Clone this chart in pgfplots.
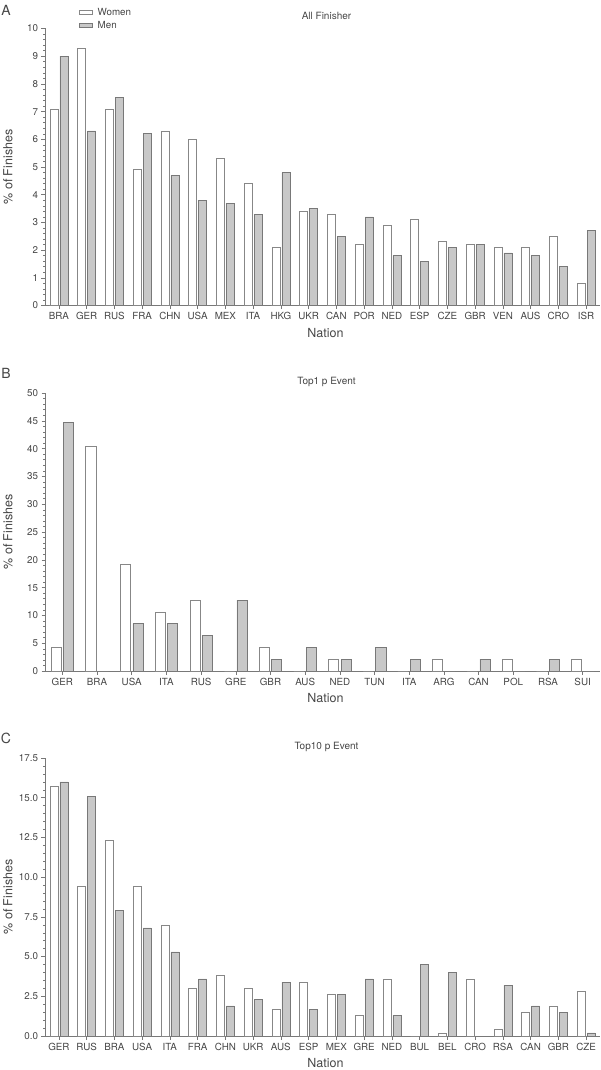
\documentclass[border=0pt]{standalone}
\usepackage{fontspec}
\setmainfont{TeX Gyre Heros}
\usepackage{pgfplots}
\usepackage{pgfplotstable}
\pgfplotsset{compat=1.18}
\definecolor{mengray}{RGB}{200,200,200}
\definecolor{menedge}{RGB}{120,120,120}
\definecolor{womedge}{RGB}{135,135,135}
\definecolor{axgray}{RGB}{120,120,120}
\definecolor{txtgray}{RGB}{70,70,70}

\pgfplotstableread{
x W M
0 7.1 9.0
1 9.3 6.3
2 7.1 7.5
3 4.9 6.2
4 6.3 4.7
5 6.0 3.8
6 5.3 3.7
7 4.4 3.3
8 2.1 4.8
9 3.4 3.5
10 3.3 2.5
11 2.2 3.2
12 2.9 1.8
13 3.1 1.6
14 2.3 2.1
15 2.2 2.2
16 2.1 1.9
17 2.1 1.8
18 2.5 1.4
19 0.8 2.7
}\tableA

\pgfplotstableread{
x W M
0 4.26 44.68
1 40.43 0
2 19.15 8.51
3 10.64 8.51
4 12.77 6.38
5 0 12.77
6 4.26 2.13
7 0 4.26
8 2.13 2.13
9 0 4.26
10 0 2.13
11 2.13 0
12 0 2.13
13 2.13 0
14 0 2.13
15 2.13 0
}\tableB

\pgfplotstableread{
x W M
0 15.7 16.0
1 9.4 15.1
2 12.3 7.9
3 9.4 6.8
4 7.0 5.3
5 3.0 3.6
6 3.8 1.9
7 3.0 2.3
8 1.7 3.4
9 3.4 1.7
10 2.6 2.6
11 1.3 3.6
12 3.6 1.3
13 0 4.5
14 0.2 4.0
15 3.6 0
16 0.4 3.2
17 1.5 1.9
18 1.9 1.5
19 2.8 0.2
}\tableC

\pgfplotsset{
  panel/.style={
    scale only axis, width=555pt,
    axis x line*=bottom, axis y line*=left,
    axis line style={axgray, -, line width=0.6pt},
    tick style={axgray, line width=0.5pt},
    tick align=outside, major tick length=3.5pt, minor tick length=2pt,
    minor y tick num=4, minor x tick num=0,
    ymin=0, xmin=-0.5,
    xlabel=Nation, ylabel={\% of Finishes},
    xlabel style={font=\fontsize{12.5}{14}\selectfont, at={(axis description cs:0.5,0)}, anchor=center, yshift=-27.5pt, xshift=3pt},
    ylabel style={font=\fontsize{12.5}{14}\selectfont, at={(axis description cs:-0.0667,0.5)}, anchor=center},
    ticklabel style={font=\fontsize{9.8}{11}\selectfont},
    /pgf/number format/assume math mode=true,
    title style={font=\fontsize{10}{12}\selectfont, at={(axis description cs:0.5,1)}, anchor=base, xshift=4pt, yshift=2.5pt},
    ybar, bar width=0.29,
  },
  women/.style={fill=white, draw=womedge, line width=0.6pt, bar shift=-0.18},
  men/.style={fill=mengray, draw=menedge, line width=0.6pt, bar shift=0.18},
}

\begin{document}
\begin{tikzpicture}[color=txtgray]
\path[use as bounding box] (0pt,0pt) rectangle (600pt,-1070pt);

\node[font=\fontsize{14}{16}\selectfont] at (6pt,-10pt) {A};
\node[font=\fontsize{14}{16}\selectfont] at (6pt,-373pt) {B};
\node[font=\fontsize{14}{16}\selectfont] at (6pt,-738pt) {C};

% Panel A
\begin{axis}[panel, at={(45pt,-305.5pt)}, anchor=south west, height=277pt,
  xmax=19.5, ymax=10, ytick={0,1,...,10},
  xtick={0,1,...,19},
  xticklabels={BRA,GER,RUS,FRA,CHN,USA,MEX,ITA,HKG,UKR,CAN,POR,NED,ESP,CZE,GBR,VEN,AUS,CRO,ISR},
  title={All Finisher},
  legend style={at={(axis description cs:0.061,1)}, anchor=south west, yshift=-3pt,
    draw=none, fill=none, inner sep=0pt, row sep=1.5pt,
    font=\fontsize{9.8}{11}\selectfont, nodes={inner sep=1.5pt},
    /tikz/every odd column/.append style={column sep=3.5pt}},
  legend cell align=left,
]
\addlegendimage{legend image code/.code={\draw[fill=white,draw=womedge,line width=0.6pt] (0pt,-2.3pt) rectangle (13pt,2.3pt);}}
\addlegendentry{Women}
\addlegendimage{legend image code/.code={\draw[fill=mengray,draw=menedge,line width=0.6pt] (0pt,-2.3pt) rectangle (13pt,2.3pt);}}
\addlegendentry{Men}
\addplot[women, forget plot] table[x=x, y=W] {\tableA};
\addplot[men, forget plot] table[x=x, y=M] {\tableA};
\end{axis}

% Panel B
\begin{axis}[panel, at={(45pt,-671pt)}, anchor=south west, height=278pt,
  xmax=15.5, ymax=50, ytick={0,5,...,50},
  xtick={0,1,...,15},
  xticklabels={GER,BRA,USA,ITA,RUS,GRE,GBR,AUS,NED,TUN,ITA,ARG,CAN,POL,RSA,SUI},
  title={Top1 p Event},
]
\addplot[women] table[x=x, y=W] {\tableB};
\addplot[men] table[x=x, y=M] {\tableB};
\end{axis}

% Panel C
\begin{axis}[panel, at={(45pt,-1036pt)}, anchor=south west, height=278pt,
  xmax=19.5, ymax=17.5, ytick={0,2.5,...,17.5},
  yticklabel style={/pgf/number format/.cd, fixed, fixed zerofill, precision=1},
  xtick={0,1,...,19},
  xticklabels={GER,RUS,BRA,USA,ITA,FRA,CHN,UKR,AUS,ESP,MEX,GRE,NED,BUL,BEL,CRO,RSA,CAN,GBR,CZE},
  title={Top10 p Event},
]
\addplot[women] table[x=x, y=W] {\tableC};
\addplot[men] table[x=x, y=M] {\tableC};
\end{axis}
\end{tikzpicture}
\end{document}
